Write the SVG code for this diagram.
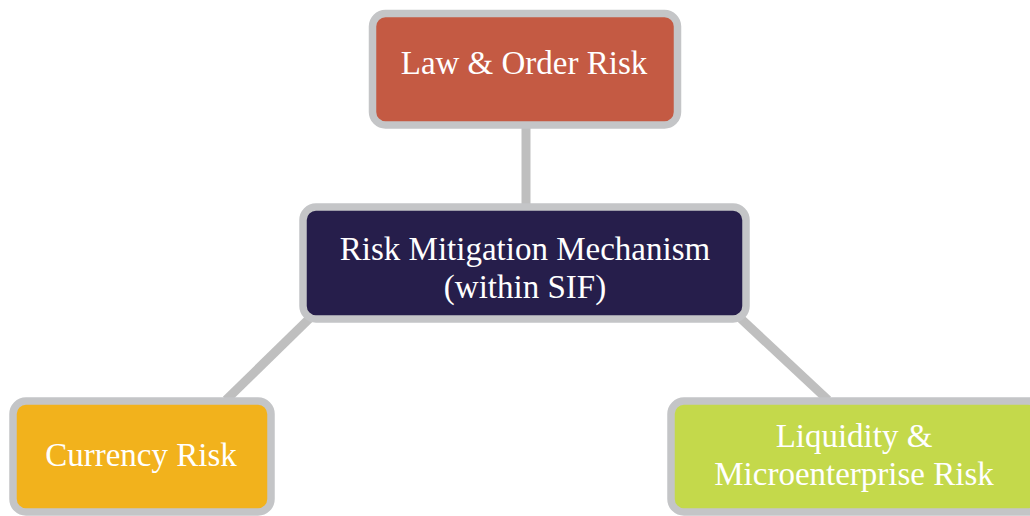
<svg xmlns="http://www.w3.org/2000/svg" width="1030" height="516" viewBox="0 0 1030 516">
<style>
.box{stroke:#C4C5C7;stroke-width:7.5}
.lbl{font-family:"Liberation Serif","Times New Roman",serif;font-size:33px;fill:#FFFFFF;text-anchor:middle}
.conn line{stroke:#BFBFBF;stroke-width:9}
</style>
<rect width="1030" height="516" fill="#FFFFFF"/>
<g id="connectors" class="conn">
<line x1="526" y1="125" x2="526" y2="208"/>
<line x1="312" y1="316" x2="226" y2="400"/>
<line x1="738" y1="316" x2="828" y2="400"/>
</g>
<g id="law-order">
<rect class="box" x="372.5" y="13.5" width="305" height="111.5" rx="13" fill="#C45A43"/>
<text class="lbl" x="524" y="74">Law &amp; Order Risk</text>
</g>
<g id="rmm">
<rect class="box" x="303" y="207" width="443" height="112" rx="13" fill="#261E4B"/>
<text class="lbl" x="525" y="260">Risk Mitigation Mechanism</text>
<text class="lbl" x="525" y="298">(within SIF)</text>
</g>
<g id="currency">
<rect class="box" x="13" y="401" width="258" height="111" rx="13" fill="#F2B21C"/>
<text class="lbl" x="141" y="466">Currency Risk</text>
</g>
<g id="liquidity">
<rect class="box" x="671" y="401" width="370" height="111" rx="13" fill="#C4D94B"/>
<text class="lbl" x="854" y="447">Liquidity &amp;</text>
<text class="lbl" x="854" y="485">Microenterprise Risk</text>
</g>
</svg>
